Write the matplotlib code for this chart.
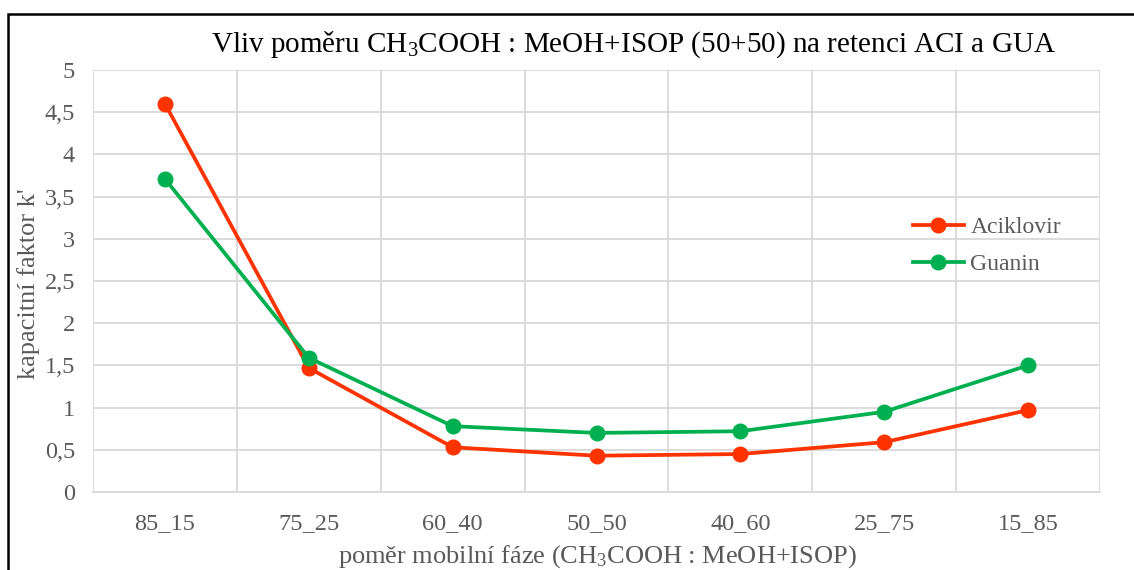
import matplotlib
matplotlib.use("Agg")
import matplotlib.pyplot as plt
from matplotlib.patches import Rectangle

plt.rcParams['font.family'] = ['Liberation Serif', 'DejaVu Serif']
plt.rcParams['mathtext.fontset'] = 'custom'
plt.rcParams['mathtext.rm'] = 'Liberation Serif'
plt.rcParams['mathtext.it'] = 'Liberation Serif:italic'
plt.rcParams['mathtext.bf'] = 'Liberation Serif:bold'

categories = ['85_15', '75_25', '60_40', '50_50', '40_60', '25_75', '15_85']
aciklovir = [4.60, 1.47, 0.53, 0.43, 0.45, 0.59, 0.97]
guanin = [3.71, 1.59, 0.78, 0.70, 0.72, 0.95, 1.50]
yticks = [0, 0.5, 1, 1.5, 2, 2.5, 3, 3.5, 4, 4.5, 5]
ytick_labels = ['0', '0,5', '1', '1,5', '2', '2,5', '3', '3,5', '4', '4,5', '5']

W, H = 1134, 570
fig = plt.figure(figsize=(W / 100, H / 100), dpi=100)
ax = fig.add_axes([93 / W, 1 - 492 / H, (1100 - 93) / W, (492 - 70) / H])

grey = '#d9d9d9'
text_grey = '#595959'
red = '#ff3300'
green = '#00b050'

x = list(range(len(categories)))
ax.plot(x, aciklovir, color=red, lw=2.7, marker='o', ms=10.5, label='Aciklovir', zorder=3)
ax.plot(x, guanin, color=green, lw=2.7, marker='o', ms=10.5, label='Guanin', zorder=3)

ax.set_xlim(-0.5, len(categories) - 0.5)
ax.set_ylim(0, 5)
ax.set_yticks(yticks)
ax.set_yticklabels(ytick_labels)
ax.set_xticks(x)
ax.set_xticklabels(categories)
ax.set_xticks([i + 0.5 for i in range(-1, len(categories))], minor=True)
ax.grid(True, which='major', axis='y', color=grey, lw=1.3)
ax.grid(True, which='minor', axis='x', color=grey, lw=1.3)
ax.set_axisbelow(True)
for s in ['top', 'right', 'left']:
    ax.spines[s].set_visible(False)
ax.spines['bottom'].set_color(grey)
ax.spines['bottom'].set_linewidth(1.3)
ax.tick_params(axis='both', which='both', length=0, labelsize=17.5, labelcolor=text_grey)
ax.tick_params(axis='x', pad=15)
ax.tick_params(axis='y', pad=13)

fig.text(29 / W, 1 - 284 / H, "kapacitní faktor k'", rotation=90,
         ha='center', va='center', fontsize=19, color=text_grey)
fig.text(597 / W, 1 - 557 / H, r'poměr mobilní fáze (CH$_\mathrm{3}$COOH : MeOH+ISOP)',
         ha='center', va='center', fontsize=19, color=text_grey)
fig.text(633 / W, 1 - 45 / H, r'Vliv poměru CH$_\mathrm{3}$COOH : MeOH+ISOP (50+50) na retenci ACI a GUA',
         ha='center', va='center', fontsize=21, color='black')

leg = ax.legend(loc='upper left', bbox_to_anchor=(896 / W, 1 - 200 / H), bbox_transform=fig.transFigure,
                frameon=False, fontsize=17, labelcolor=text_grey, handlelength=2.2,
                handletextpad=0.25, labelspacing=0.65, borderpad=0.2)

fig.patches.append(Rectangle((8 / W, -0.1), 1.2, 1 - 14 / H + 0.1, transform=fig.transFigure,
                             fill=False, edgecolor='black', lw=1.8))

fig.savefig('out.png', dpi=100)
